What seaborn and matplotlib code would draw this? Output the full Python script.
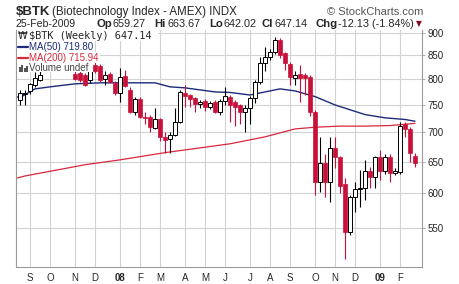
import numpy as np
import pandas as pd
import matplotlib
matplotlib.use("Agg")
import matplotlib.pyplot as plt
import seaborn as sns
from matplotlib.ticker import FixedLocator, NullLocator, FixedFormatter
from matplotlib.patches import Rectangle

# ---------------- data (weekly candles, Aug 20 2007 .. Feb 23 2009) -------------
week_start = "2007-08-20"
opens = [760, 771, 777, 789, 799, 820, 832, 845, 838, 850, 842, 811, 812, 809, 799, 830, 828, 801, 811, 793,
         773, 807, 779, 737, 762, 728, 728, 707, 723, 692, 689, 696, 719, 773, 769, 764, 752, 758, 747, 756,
         737, 758, 766, 756, 750, 736, 745, 764, 795, 834, 847, 858, 884, 854, 832, 803, 811, 809, 805, 736,
         617, 648, 617, 673, 657, 614, 544, 594, 606, 609, 635, 625, 657, 635, 657, 632, 633, 714, 706, 659.27]
highs = [779, 779, 793, 814, 816, 838, 852, 855, 858, 860, 848, 824, 820, 812, 830, 835, 832, 816, 815, 796,
         824, 820, 785, 765, 766, 737, 732, 745, 726, 701, 701, 745, 779, 789, 771, 766, 760, 762, 758, 760,
         762, 785, 770, 760, 752, 750, 767, 799, 847, 867, 864, 891, 888, 858, 836, 816, 830, 812, 809, 740,
         691, 662, 691, 692, 660, 624, 597, 617, 637, 653, 641, 660, 670, 662, 662, 640, 718, 719, 709, 663.67]
lows = [750, 750, 771, 785, 797, 818, 826, 830, 832, 835, 822, 798, 795, 786, 793, 812, 795, 788, 792, 770,
        756, 784, 735, 732, 725, 714, 700, 705, 684, 665, 665, 694, 716, 747, 747, 737, 745, 739, 743, 735,
        732, 750, 719, 711, 714, 701, 714, 754, 790, 816, 840, 852, 845, 820, 789, 789, 756, 769, 730, 597,
        602, 594, 587, 640, 600, 508, 540, 573, 580, 590, 609, 609, 620, 630, 617, 628, 630, 692, 650, 642.02]
closes = [773, 772, 791, 803, 809, 832, 845, 838, 850, 842, 828, 801, 799, 789, 826, 816, 799, 809, 795, 773,
          805, 787, 737, 762, 728, 726, 709, 723, 691, 687, 696, 719, 775, 767, 762, 752, 756, 747, 754, 737,
          758, 767, 750, 747, 736, 745, 764, 795, 834, 847, 858, 884, 851, 834, 805, 809, 803, 803, 736, 617,
          648, 617, 673, 657, 612, 544, 594, 606, 609, 635, 625, 657, 635, 657, 632, 635, 711, 706, 665, 647.14]

ma50_week = [-1, 0, 3, 6, 11, 16, 21, 27, 30, 33, 39, 42, 46, 49, 52, 55, 59, 63, 69, 73, 77, 79]
ma50_vals = [766, 764, 781, 785, 791, 793, 793, 793, 785, 783, 775, 774, 769, 775, 781, 777, 766, 750, 732, 726, 723, 719.80]
ma200_week = [-1, 1, 13, 20, 29, 42, 49, 55, 59, 64, 69, 74, 79]
ma200_vals = [623, 627, 645, 653, 665, 680, 692, 706, 709, 711, 711, 712, 715.94]

month_labels = ["S", "O", "N", "D", "08", "F", "M", "A", "M", "J", "J", "A", "S", "O", "N", "D", "09", "F"]
y_ticks = [550, 600, 650, 700, 750, 800, 850, 900]

RED = "#c8103a"
NAVY = "#1c2a7a"
MARED = "#d8283c"
GRID = "#d2d2d2"
SPINE = "#9a9a9a"

# ---------------- figure ----------------
sns.set_style("white")
plt.rcParams["font.family"] = ["Liberation Sans", "DejaVu Sans"]

W, H = 460, 284
fig = plt.figure(figsize=(W / 100, H / 100), dpi=100)
L, R, T, B = 16, 422.5, 30, 267
ax = fig.add_axes([L / W, 1 - B / H, (R - L) / W, (B - T) / H])

o = np.array(opens, float); h = np.array(highs, float)
lo = np.array(lows, float); c = np.array(closes, float)
n = len(o)
x = np.arange(n)
dates = pd.date_range(week_start, periods=n, freq="W-MON")
up = c >= o

# MA lines
sns.lineplot(x=ma50_week, y=ma50_vals, ax=ax, color=NAVY, lw=1.0, estimator=None, sort=False, zorder=2)
sns.lineplot(x=ma200_week, y=ma200_vals, ax=ax, color=MARED, lw=0.9, estimator=None, sort=False, zorder=2)

# wicks
ax.vlines(x[up], lo[up], h[up], color="black", lw=0.8, zorder=3)
ax.vlines(x[~up], lo[~up], h[~up], color=RED, lw=0.8, zorder=3)
# bodies
bw = 0.74
ax.bar(x[up], np.maximum(c[up] - o[up], 0.8), bottom=o[up], width=bw,
       facecolor="white", edgecolor="black", lw=0.7, zorder=4)
ax.bar(x[~up], np.maximum(o[~up] - c[~up], 0.8), bottom=c[~up], width=bw,
       facecolor=RED, edgecolor=RED, lw=0.5, zorder=4)

ax.set_yscale("log")
ax.set_xlim((L - 20) / 5, (R - 20) / 5)
ax.set_ylim(498.4, 906)

# month ticks from the weekly dates
m = dates.month
month_pos = [i for i in range(1, n) if m[i] != m[i - 1]]
ax.xaxis.set_major_locator(FixedLocator(month_pos))
ax.xaxis.set_major_formatter(FixedFormatter(month_labels))
ax.xaxis.set_minor_locator(FixedLocator(list(x)))
for lab in ax.get_xticklabels():
    if lab.get_text() in ("08", "09"):
        lab.set_fontweight("bold")

ax.yaxis.tick_right()
ax.yaxis.set_major_locator(FixedLocator(y_ticks))
ax.yaxis.set_major_formatter(FixedFormatter([str(v) for v in y_ticks]))
ax.yaxis.set_minor_locator(NullLocator())

ax.tick_params(axis="x", which="major", length=2.5, width=0.6, color=SPINE, labelsize=7, pad=1.5)
ax.tick_params(axis="x", which="minor", length=2, width=0.6, color=SPINE)
ax.tick_params(axis="y", which="major", length=2, width=0.6, color=SPINE, labelsize=7, pad=1.5)

ax.grid(True, which="major", color=GRID, lw=0.8, zorder=0)
ax.set_axisbelow(True)
for s in ("left", "bottom", "right"):
    ax.spines[s].set_color(SPINE)
    ax.spines[s].set_linewidth(0.8)
ax.spines["top"].set_visible(False)


def fx(px):
    return px / W


def fy(py):
    return 1 - py / H


# legend boxes (white background per line)
for (x0, y0, x1, y1) in [(16.5, 30, 158, 41), (16.5, 41, 94, 52), (16.5, 52, 100, 63), (16.5, 63, 93, 72)]:
    fig.add_artist(Rectangle((fx(x0), fy(y1)), fx(x1) - fx(x0), fy(y0) - fy(y1),
                             transform=fig.transFigure, facecolor="white", edgecolor="none", zorder=5))

fig.text(fx(29), fy(36), "$BTK (Weekly) 647.14", fontsize=7.4, family="DejaVu Sans Mono",
         va="center", ha="left", zorder=6)
fig.text(fx(18), fy(36), "\u20A9", fontsize=7, va="center", ha="left", zorder=6, family="DejaVu Sans")
fig.add_artist(plt.Line2D([fx(18), fx(28)], [fy(47), fy(47)], color=NAVY, lw=1.6, transform=fig.transFigure, zorder=6))
fig.text(fx(29), fy(47), "MA(50) 719.80", fontsize=7, color=NAVY, va="center", ha="left", zorder=6)
fig.add_artist(plt.Line2D([fx(18), fx(28)], [fy(58), fy(58)], color=MARED, lw=1.6, transform=fig.transFigure, zorder=6))
fig.text(fx(29), fy(58), "MA(200) 715.94", fontsize=7, color=MARED, va="center", ha="left", zorder=6)
for bx, bh in [(19, 5), (21.5, 7), (24, 4), (26.5, 6)]:
    fig.add_artist(Rectangle((fx(bx), fy(72)), fx(1.8), bh / H,
                             transform=fig.transFigure, facecolor="#555555", edgecolor="none", zorder=6))
fig.text(fx(29), fy(68), "Volume undef", fontsize=7, color="#444444", va="center", ha="left", zorder=6)

# header
fig.text(fx(16), fy(15), "$BTK", fontsize=9.5, fontweight="bold", va="baseline", ha="left")
fig.text(fx(52), fy(15), "(Biotechnology Index - AMEX) INDX", fontsize=8.3, va="baseline", ha="left")
fig.text(fx(423), fy(15), "\u00A9 StockCharts.com", fontsize=8, color="#555555", va="baseline", ha="right")
fig.text(fx(16), fy(27), "25-Feb-2009", fontsize=7.6, va="baseline", ha="left")
parts = [(97, "Op", True), (113, "659.27", False), (154, "Hi", True), (168, "663.67", False),
         (209, "Lo", True), (224, "642.02", False), (262, "Cl", True), (275, "647.14", False),
         (315, "Chg", True), (338, "-12.13 (-1.84%)", False)]
for px_, s, bold in parts:
    fig.text(fx(px_), fy(27), s, fontsize=8.2 if bold else 7.8, fontweight="bold" if bold else "normal",
             va="baseline", ha="left")
fig.text(fx(419), fy(24), "\u25BC", fontsize=5.5, color="#8b0a2a", va="center", ha="center", family="DejaVu Sans")

fig.savefig("out.png", dpi=100, facecolor="white")
